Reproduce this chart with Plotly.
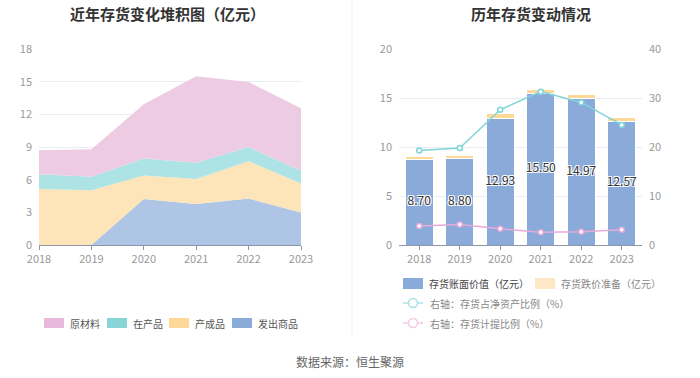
import plotly.graph_objects as go

years = ["2018", "2019", "2020", "2021", "2022", "2023"]
years_num = [2018, 2019, 2020, 2021, 2022, 2023]

# Left chart: stacked inventory composition (亿元)
fachu = [0.0, 0.0, 4.23, 3.77, 4.26, 2.98]       # 发出商品
chancheng = [5.15, 5.03, 2.15, 2.30, 3.44, 2.66]  # 产成品
zaichan = [1.35, 1.23, 1.56, 1.48, 1.29, 1.17]    # 在产品
yuancai = [2.20, 2.54, 4.99, 7.95, 5.98, 5.76]    # 原材料

# Right chart
book_value = [8.70, 8.80, 12.93, 15.50, 14.97, 12.57]   # 存货账面价值
reserve = [0.33, 0.37, 0.46, 0.41, 0.40, 0.41]          # 存货跌价准备
ratio_net_assets = [19.3, 19.8, 27.6, 31.3, 29.1, 24.5]  # 存货占净资产比例 %
ratio_provision = [3.9, 4.2, 3.3, 2.6, 2.7, 3.1]         # 存货计提比例 %

FONT = "Noto Sans CJK SC, Noto Sans, sans-serif"
GRID = "#e8ecf3"
TICK = "#999999"
AXIS = "#8c96a6"

C_PINK_A, C_TEAL_A, C_ORANGE_A, C_BLUE_A = "#edcce3", "#ade3e4", "#fde4b9", "#afc5e6"
C_BAR = "#8aabd9"
C_RES = "#fdd898"
C_LINE1 = "#7fd4d6"
C_LINE2 = "#e6a9d8"

fig = go.Figure()

for name, vals, col in [("发出商品", fachu, C_BLUE_A), ("产成品", chancheng, C_ORANGE_A),
                        ("在产品", zaichan, C_TEAL_A), ("原材料", yuancai, C_PINK_A)]:
    fig.add_trace(go.Scatter(x=years_num, y=vals, name=name, stackgroup="s", mode="lines",
                             line=dict(width=0, color=col), fillcolor=col,
                             xaxis="x", yaxis="y", showlegend=False, hoverinfo="skip"))

fig.add_trace(go.Bar(x=years, y=book_value, marker=dict(color=C_BAR, line=dict(width=1, color="white")),
                     xaxis="x2", yaxis="y2", showlegend=False, width=0.7))
fig.add_trace(go.Bar(x=years, y=reserve, marker=dict(color=C_RES, line=dict(width=1, color="white")),
                     xaxis="x2", yaxis="y2", showlegend=False, width=0.7))
fig.add_trace(go.Scatter(x=years, y=[v / 2 for v in book_value], mode="text",
                         text=[f"{v:.2f}" for v in book_value],
                         textfont=dict(family=FONT, size=12, color="#333333",
                                       shadow="1px 1px 0 #fff, -1px -1px 0 #fff, 1px -1px 0 #fff, -1px 1px 0 #fff"),
                         xaxis="x2", yaxis="y2", showlegend=False, hoverinfo="skip"))
fig.add_trace(go.Scatter(x=years, y=ratio_net_assets, mode="lines+markers",
                         line=dict(color=C_LINE1, width=1.5),
                         marker=dict(symbol="circle", size=5, color="white", line=dict(color=C_LINE1, width=1.5)),
                         xaxis="x2", yaxis="y3", showlegend=False))
fig.add_trace(go.Scatter(x=years, y=ratio_provision, mode="lines+markers",
                         line=dict(color=C_LINE2, width=1.5),
                         marker=dict(symbol="circle", size=5, color="white", line=dict(color=C_LINE2, width=1.5)),
                         xaxis="x2", yaxis="y3", showlegend=False))

W, H = 700, 378
def px(x): return x / W
def py(y): return 1 - y / H

tickfont = dict(family=FONT, size=11, color=TICK)

fig.update_layout(
    width=W, height=H, margin=dict(l=0, r=0, t=0, b=0, autoexpand=False),
    paper_bgcolor="white", plot_bgcolor="white", barmode="stack", bargap=0.3,
    font=dict(family=FONT), showlegend=False,
    xaxis=dict(domain=[px(39), px(301)], range=[2018, 2023], tickvals=years_num, ticktext=years,
               showgrid=False, zeroline=False, showline=True, linecolor=AXIS, ticks="outside",
               tickcolor=AXIS, ticklen=4, tickfont=tickfont, anchor="y", automargin=False),
    yaxis=dict(domain=[py(245), py(49)], range=[0, 18], dtick=3, showgrid=True, gridcolor=GRID,
               zeroline=False, showline=False, tickfont=tickfont, anchor="x", ticklabelstandoff=6,
               automargin=False),
    xaxis2=dict(domain=[px(399), px(642)], type="category", showgrid=False, zeroline=False,
                showline=True, linecolor=AXIS, ticks="outside", tickcolor=AXIS, ticklen=4,
                tickfont=tickfont, anchor="y2", automargin=False),
    yaxis2=dict(domain=[py(245), py(49)], range=[0, 20], dtick=5, showgrid=True, gridcolor=GRID,
                zeroline=False, showline=False, tickfont=tickfont, anchor="x2", ticklabelstandoff=6,
                automargin=False),
    yaxis3=dict(range=[0, 40], dtick=10, overlaying="y2", side="right", showgrid=False,
                zeroline=False, showline=False, tickfont=tickfont, anchor="x2", ticklabelstandoff=6,
                automargin=False),
)

annotations = [
    dict(x=px(167), y=py(13), text="<b>近年存货变化堆积图（亿元）</b>", font=dict(size=15, color="#333333", family=FONT)),
    dict(x=px(531), y=py(13), text="<b>历年存货变动情况</b>", font=dict(size=15, color="#333333", family=FONT)),
    dict(x=px(350), y=py(361), text="数据来源：恒生聚源", font=dict(size=12, color="#666666", family=FONT)),
]
shapes = [dict(type="line", xref="paper", yref="paper", x0=px(352), x1=px(352), y0=py(0), y1=py(335),
               line=dict(color="#f0f0f0", width=1))]

# left legend
left_items = [("原材料", "#e8b9da", 44), ("在产品", "#88d5d8", 107), ("产成品", "#fdd899", 169), ("发出商品", "#8aabd9", 232)]
for txt, col, x0 in left_items:
    shapes.append(dict(type="rect", xref="paper", yref="paper", x0=px(x0), x1=px(x0 + 20),
                       y0=py(328), y1=py(318), fillcolor=col, line=dict(width=0), layer="above"))
    annotations.append(dict(x=px(x0 + 24), y=py(323), text=txt, xanchor="left",
                            font=dict(size=10, color="#555555", family=FONT)))

# right legend
for txt, col, x0, tc in [("存货账面价值（亿元）", "#8aabd9", 403, "#444444"), ("存货跌价准备（亿元）", "#fde7c4", 535, "#888888")]:
    shapes.append(dict(type="rect", xref="paper", yref="paper", x0=px(x0), x1=px(x0 + 20),
                       y0=py(289), y1=py(278), fillcolor=col, line=dict(width=0), layer="above"))
    annotations.append(dict(x=px(x0 + 24), y=py(283.5), text=txt, xanchor="left",
                            font=dict(size=10, color=tc, family=FONT)))
for txt, col, yy in [("右轴：存货占净资产比例（%）", "#a8e3e5", 303), ("右轴：存货计提比例（%）", "#f2c9e7", 323)]:
    shapes.append(dict(type="line", xref="paper", yref="paper", x0=px(403), x1=px(423), y0=py(yy), y1=py(yy),
                       line=dict(color=col, width=1.5), layer="above"))
    shapes.append(dict(type="circle", xref="paper", yref="paper", x0=px(408.5), x1=px(417.5),
                       y0=py(yy + 4.5), y1=py(yy - 4.5), fillcolor="white", line=dict(color=col, width=1.5), layer="above"))
    annotations.append(dict(x=px(428), y=py(yy), text=txt, xanchor="left",
                            font=dict(size=10, color="#888888", family=FONT)))

for a in annotations:
    a.update(xref="paper", yref="paper", showarrow=False)
    a.setdefault("xanchor", "center")
    a.setdefault("yanchor", "middle")

fig.update_layout(annotations=annotations, shapes=shapes)
fig.write_html("out.html", config={"displayModeBar": False},
               post_script="document.body.style.margin='0';document.body.style.overflow='hidden';")
